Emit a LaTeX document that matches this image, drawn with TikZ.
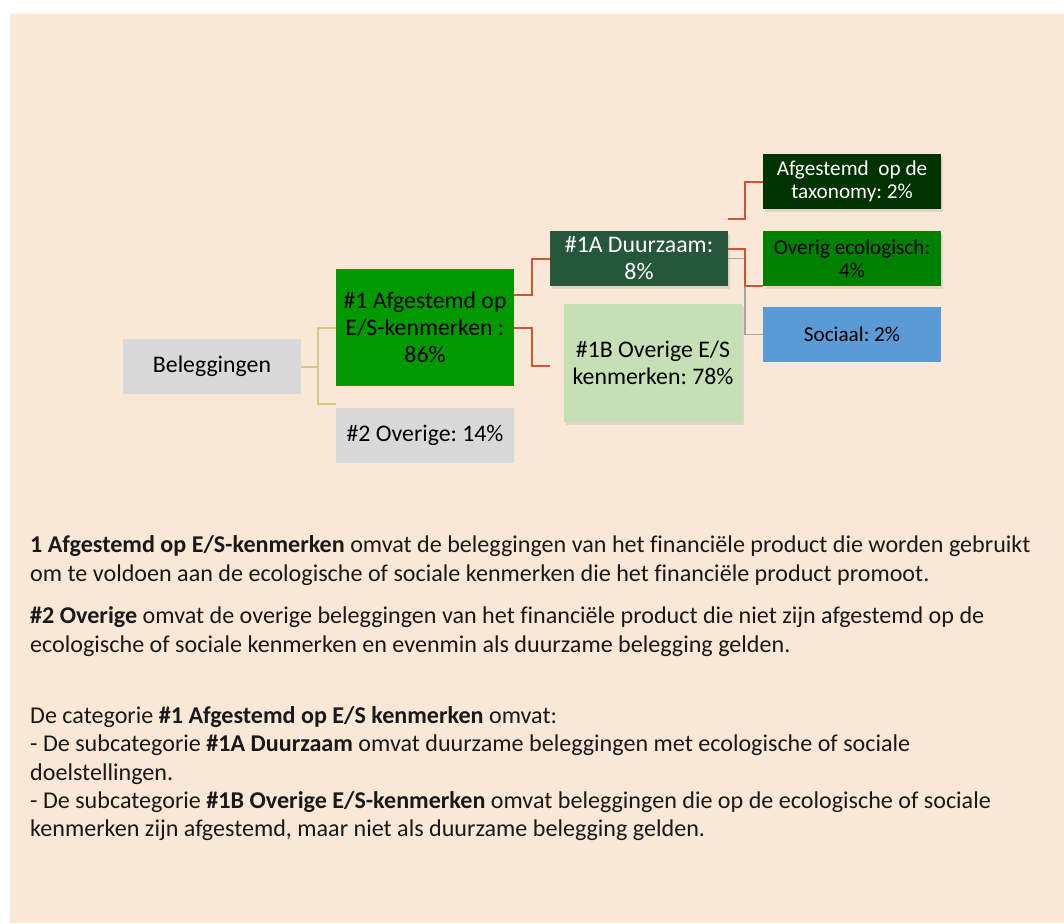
\documentclass[tikz,border=0pt]{standalone}
\usepackage{fontspec}
\setmainfont{Carlito}[Ligatures=CommonOff]
\usetikzlibrary{calc,shadows}
\frenchspacing
\definecolor{bg}{HTML}{FAE8D7}
\definecolor{boxgray}{HTML}{D9D9D9}
\definecolor{boxgreen}{HTML}{009900}
\definecolor{boxdark}{HTML}{26573A}
\definecolor{boxlight}{HTML}{C5E0B4}
\definecolor{boxtax}{HTML}{003300}
\definecolor{boxeco}{HTML}{008000}
\definecolor{boxblue}{HTML}{5B9BD5}
\definecolor{lineY}{HTML}{D6C880}
\definecolor{lineR}{HTML}{CC5533}
\definecolor{lineG}{HTML}{A6A6A6}
\begin{document}
\frenchspacing
\begin{tikzpicture}[x=1pt,y=-1pt,
  box/.style={draw=none, inner sep=0pt, minimum width=178pt, text width=176pt, align=flush center},
  big/.style={font=\fontsize{23.8}{27}\selectfont},
  small/.style={font=\fontsize{21.2}{23.5}\selectfont},
  shade/.style={drop shadow={opacity=0.2, shadow xshift=2pt, shadow yshift=-3pt}},
  body/.style={anchor=base west, inner sep=0pt, font=\fontsize{24.1}{29}\selectfont, text=black!90},
  yl/.style={draw=lineY, line width=2pt},
  rd/.style={draw=lineR, line width=2pt},
  gy/.style={draw=lineG, line width=1.5pt}]
\useasboundingbox (0,0) rectangle (1064,923);
\fill[white] (0,0) rectangle (1064,923);
\fill[bg] (10,14) rectangle (1064,923);

% boxes
\node[box,big,fill=boxgray,minimum height=55pt] (bel) at (212,366.5) {Beleggingen};
\node[box,big,fill=boxgreen,minimum height=117pt] (g1) at (425,327.5) {\#1 Afgestemd op\\E/S-kenmerken :\\86\%};
\node[box,big,fill=boxgray,minimum height=55pt] (g2) at (425,435.5) {\#2 Overige: 14\%};
\node[box,big,fill=boxdark,text=white,minimum height=55pt,shade] (a1) at (639,258.5) {\#1A Duurzaam:\\8\%};
\node[box,big,fill=boxlight,minimum height=118pt,shade] (b1) at (653,363) {\#1B Overige E/S\\kenmerken: 78\%};
\node[box,small,fill=boxtax,text=white,minimum height=55pt,shade] (tax) at (852,181.5) {Afgestemd\ \ op de\\taxonomy: 2\%};
\node[box,small,fill=boxeco,minimum height=55pt,shade] (eco) at (852,258.5) {Overig ecologisch:\\4\%};
\node[box,small,fill=boxblue,minimum height=55pt] (soc) at (852,334.5) {Sociaal: 2\%};

% free ends
\coordinate (c2) at ($(g2.north west)+(0,-4)$);
\coordinate (c1b) at ($(b1.west)+(-14,3)$);
\coordinate (g0) at ($(g1.north east)+(0,26)$);
\coordinate (t0) at ($(a1.north east)+(0,-12)$);
\coordinate (e0) at ($(a1.east)+(0,-10)$);

% connectors
\draw[yl] (bel.east) -- ++(17,0) |- (g1.west);
\draw[yl] (bel.east) -- ++(17,0) |- (c2);
\draw[rd] (g0) -- ++(18,0) |- (a1.west);
\draw[rd] (g1.east) -- ++(18,0) |- (c1b);
\draw[gy] (a1.east) -- ++(17,0) |- (soc.west);
\draw[rd] (t0) -- ++(17,0) |- (tax.west);
\draw[rd] (e0) -- ++(17,0) |- (eco.south west);

% explanatory text
\node[body] (p1) at (30,552) {\textbf{1 Afgestemd op E/S-kenmerken} omvat de beleggingen van het financiële product die worden gebruikt};
\node[body] (p2) at (30,581) {om te voldoen aan de ecologische of sociale kenmerken die het financiële product promoot.};
\node[body] (p3) at (30,623) {\textbf{\#2 Overige} omvat de overige beleggingen van het financiële product die niet zijn afgestemd op de};
\node[body] (p4) at (30,652) {ecologische of sociale kenmerken en evenmin als duurzame belegging gelden.};
\node[body] (p5) at (30,723.3) {De categorie \textbf{\#1 Afgestemd op E/S kenmerken} omvat:};
\node[body] (p6) at (30,751.7) {- De subcategorie \textbf{\#1A Duurzaam} omvat duurzame beleggingen met ecologische of sociale};
\node[body] (p7) at (30,780) {doelstellingen.};
\node[body] (p8) at (30,808.3) {- De subcategorie \textbf{\#1B Overige E/S-kenmerken} omvat beleggingen die op de ecologische of sociale};
\node[body] (p9) at (30,836.7) {kenmerken zijn afgestemd, maar niet als duurzame belegging gelden.};
\end{tikzpicture}
\end{document}
